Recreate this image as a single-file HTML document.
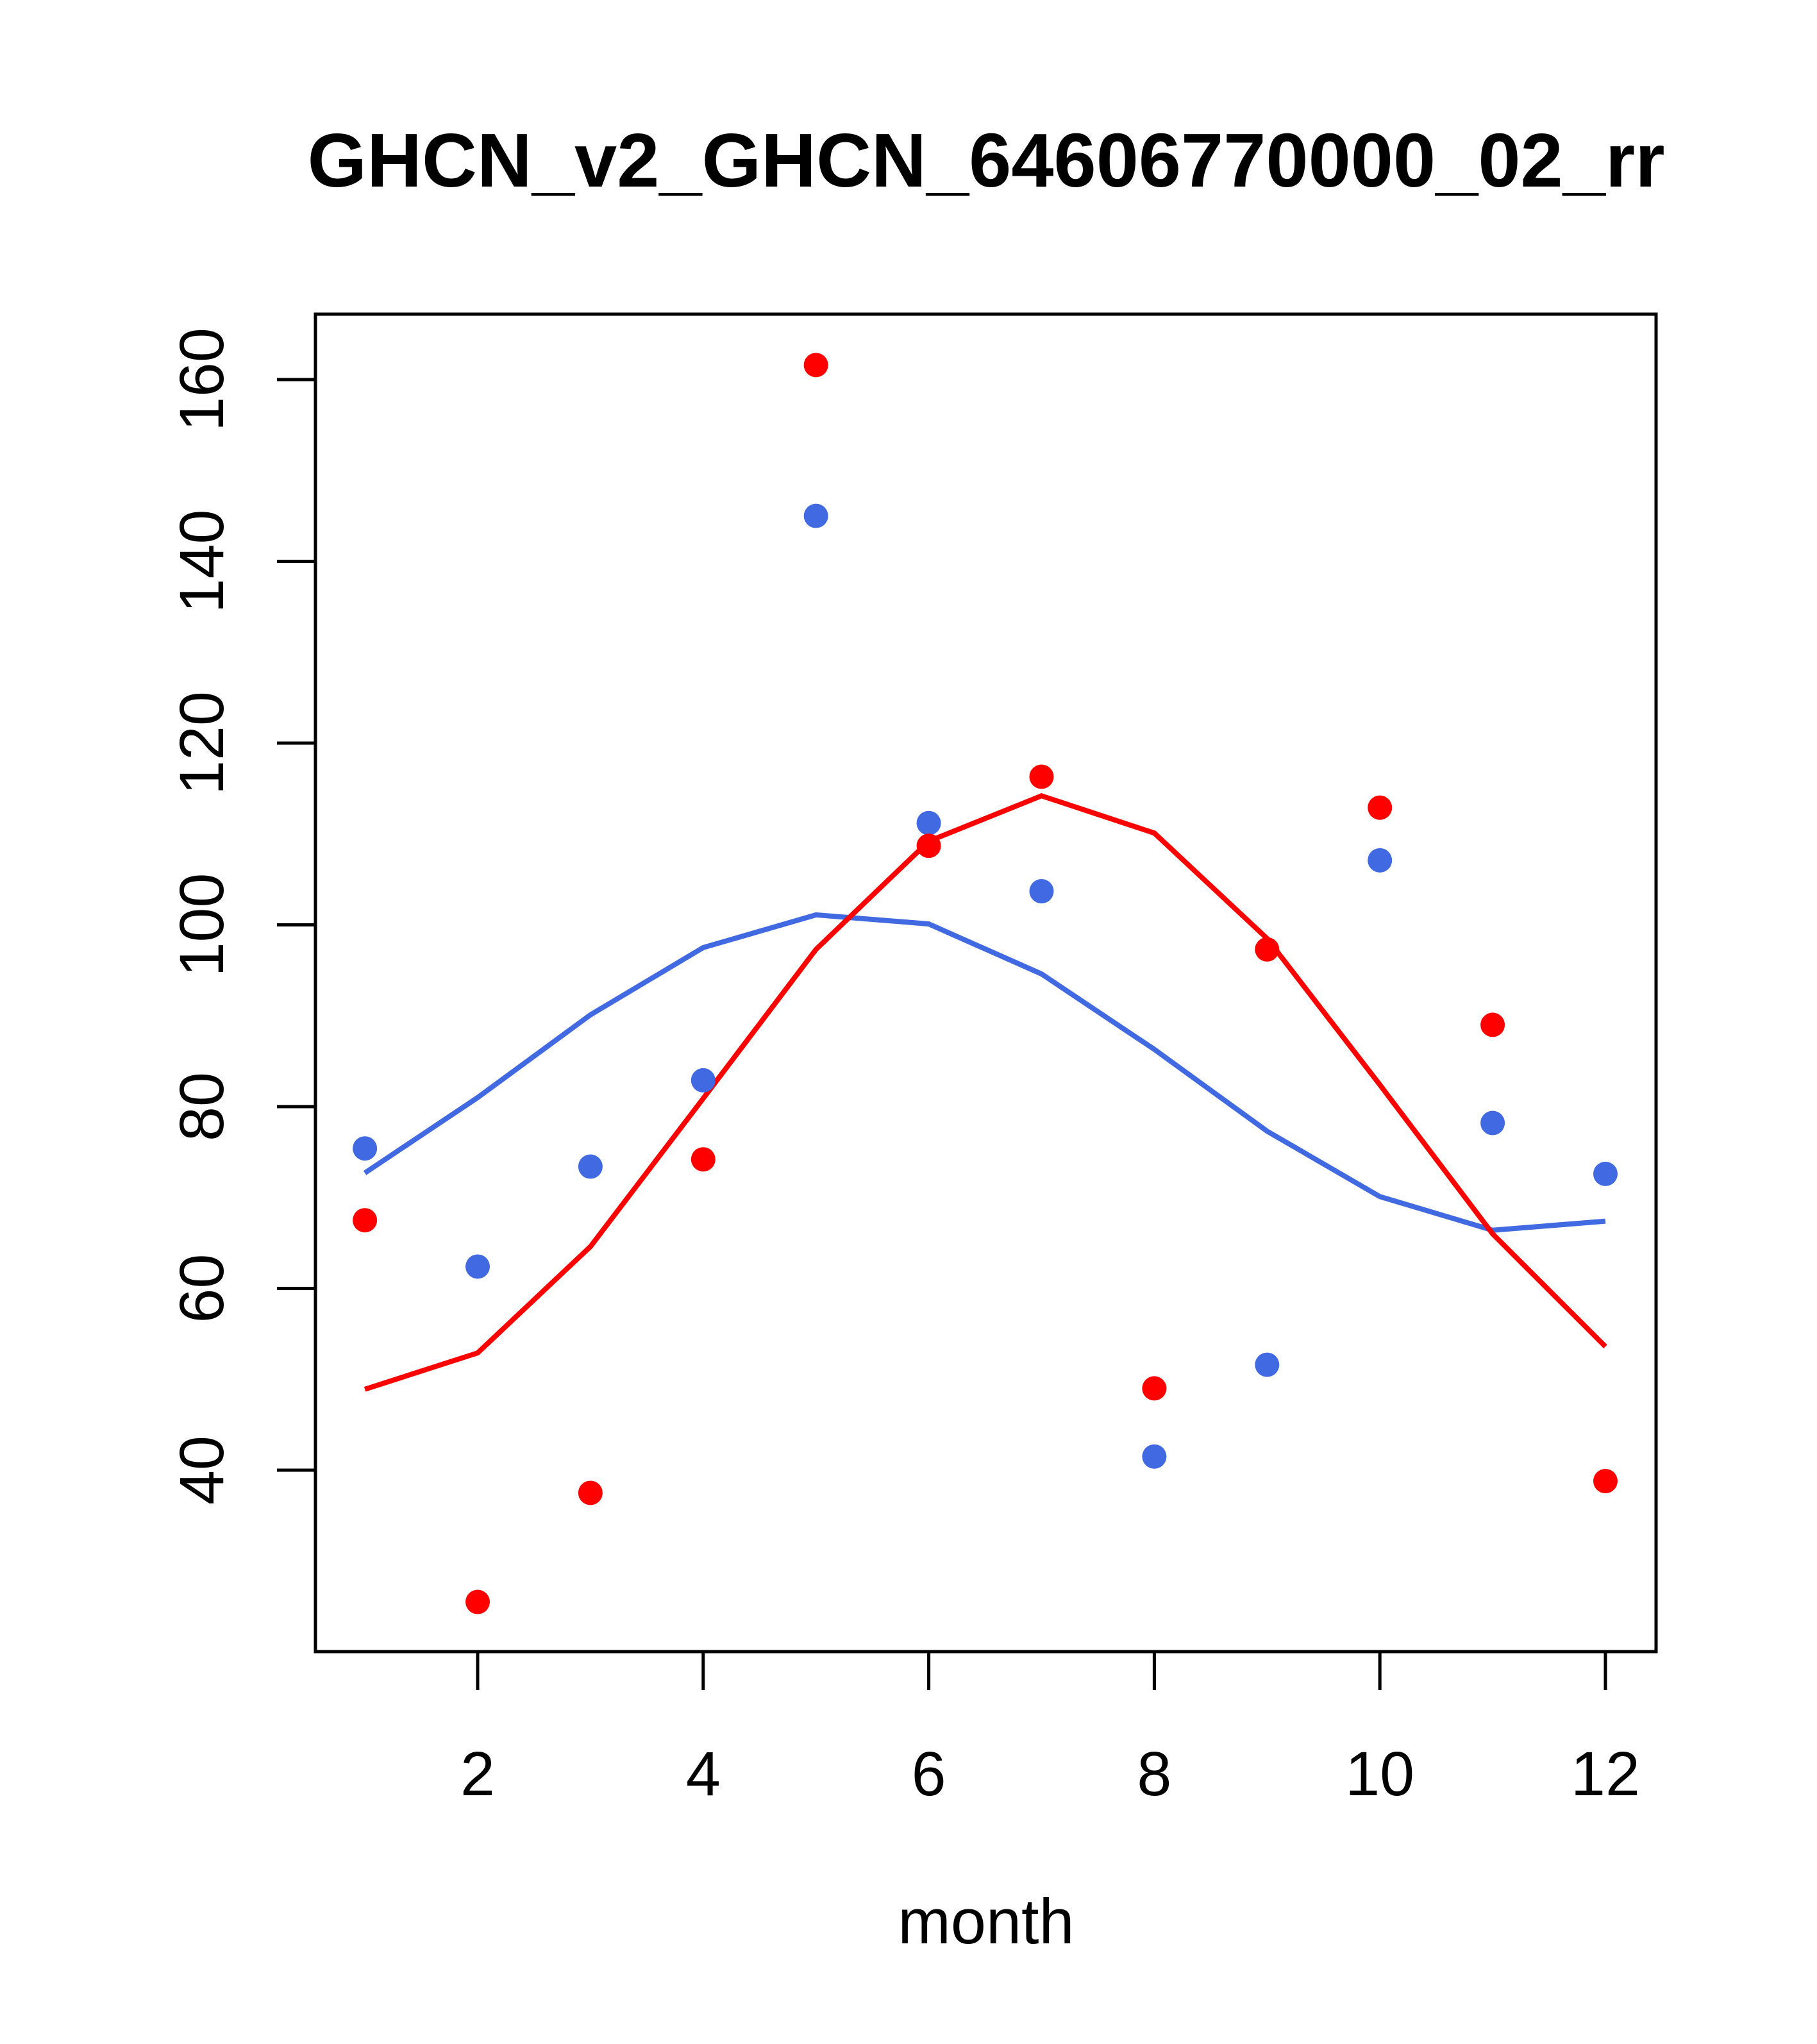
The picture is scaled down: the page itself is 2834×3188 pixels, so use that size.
<!DOCTYPE html>
<html><head><meta charset="utf-8"><style>body{margin:0;background:#fff}svg{display:block}text{font-family:"Liberation Sans",sans-serif}</style></head>
<body>
<svg id="chart" width="2834" height="3188" xmlns="http://www.w3.org/2000/svg">
<text x="1538" y="291" font-size="119" font-weight="bold" text-anchor="middle">GHCN_v2_GHCN_64606770000_02_rr</text>
<rect x="492" y="490" width="2091" height="2086" fill="none" stroke="#000" stroke-width="5"/>
<text x="1538" y="3031" font-size="99" text-anchor="middle">month</text>
<g id="axes"></g><g id="marks"></g>
</svg>
<script>
const months=[1,2,3,4,5,6,7,8,9,10,11,12];
const redPoints=[67.5,25.5,37.5,74.2,161.6,108.7,116.3,49,97.3,112.9,89,38.8];
const bluePoints=[75.4,62.4,73.4,82.9,145,111.2,103.7,41.5,51.6,107.1,78.2,72.6];
const redLine=[48.9,52.9,64.6,80.9,97.3,109.2,114.2,110.1,98.5,82.4,66,53.6];
const blueLine=[72.7,81.0,90.1,97.5,101.1,100.1,94.6,86.3,77.3,70.1,66.4,67.4];
const xTicks=[2,4,6,8,10,12];
const yTicks=[40,60,80,100,120,140,160];
const NS="http://www.w3.org/2000/svg";
function X(m){return 745+(m-2)*175.9;}
function Y(v){return 2293-(v-40)*14.175;}
const axes=document.getElementById('axes'),marks=document.getElementById('marks');
function mk(tag,attrs,parent){const e=document.createElementNS(NS,tag);for(const k in attrs)e.setAttribute(k,attrs[k]);parent.appendChild(e);return e;}
xTicks.forEach(t=>{
 const l=mk('line',{x1:X(t),x2:X(t),y1:2576,y2:2636,stroke:'#000','stroke-width':5},axes);
 
 
 const tx=mk('text',{x:X(t),y:2800,'font-size':97,'text-anchor':'middle'},axes);tx.textContent=t;
 
 
});
yTicks.forEach(t=>{
 const l=mk('line',{x1:432,x2:492,y1:Y(t),y2:Y(t),stroke:'#000','stroke-width':5},axes);
 
 
 const tx=mk('text',{x:348,y:Y(t),'font-size':97,'text-anchor':'middle',transform:`rotate(-90 348 ${Y(t)})`},axes);tx.textContent=t;
 
 
});
function line(vals,color,name){
 const p=mk('polyline',{points:vals.map((v,i)=>X(months[i])+','+Y(v)).join(' '),fill:'none',stroke:color,'stroke-width':8},marks);
 
 
}
function pts(vals,color,name){
 vals.forEach((v,i)=>{const c=mk('circle',{cx:X(months[i]),cy:Y(v),r:19,fill:color},marks);
 
 });
}
line(blueLine,'#4169e1','blue-line');
line(redLine,'#ff0000','red-line');
pts(bluePoints,'#4169e1','blue-point');
pts(redPoints,'#ff0000','red-point');
</script>
</body></html>
